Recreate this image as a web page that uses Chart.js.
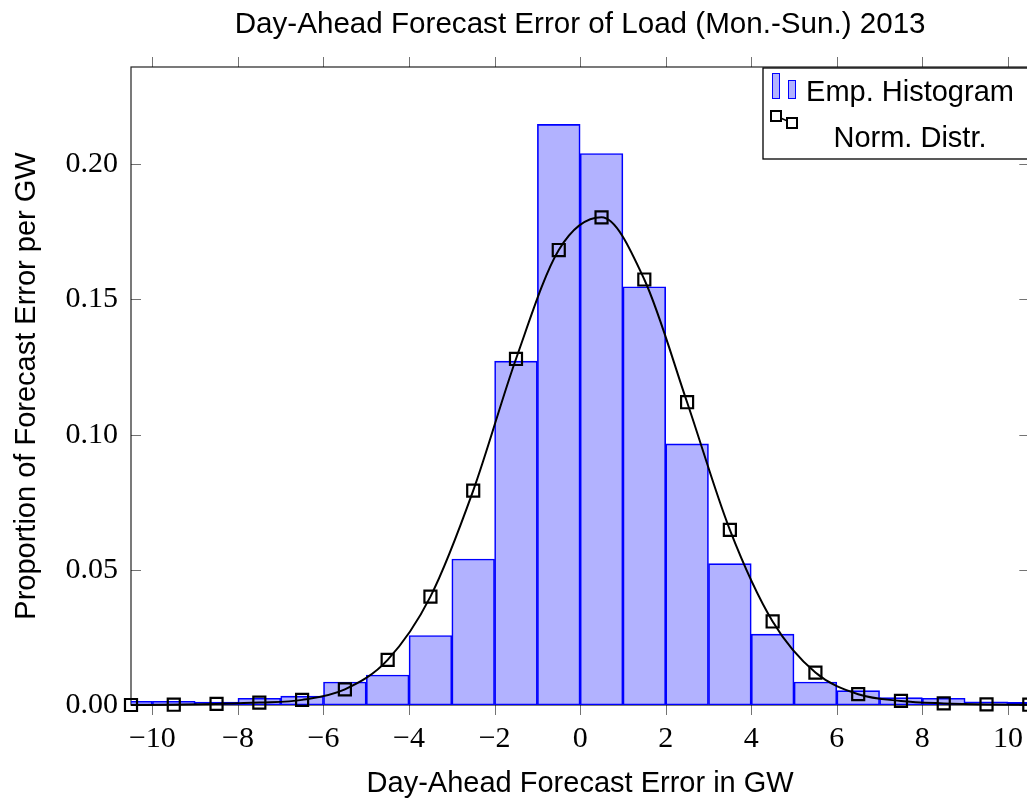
<!DOCTYPE html>
<html>
<head>
<meta charset="utf-8">
<script src="https://cdn.jsdelivr.net/npm/chart.js@4"></script>
<style>
  html, body { margin: 0; padding: 0; background: #fff; overflow: hidden; }
  #wrap { position: absolute; left: 0; top: 0; width: 1040px; height: 801px; }
</style>
</head>
<body>
<div id="wrap"><canvas id="chart" width="1040" height="801"></canvas></div>
<script>
// bin centres (1 GW wide bins), and points of the fitted normal curve
const binCentres = [-10.5, -9.5, -8.5, -7.5, -6.5, -5.5, -4.5, -3.5, -2.5, -1.5, -0.5,
                    0.5, 1.5, 2.5, 3.5, 4.5, 5.5, 6.5, 7.5, 8.5, 9.5, 10.5];
const histValues = [0.0014, 0.0014, 0.0011, 0.0025, 0.0033, 0.0085, 0.0111, 0.0257, 0.0540, 0.1272, 0.2148,
                    0.2040, 0.1547, 0.0966, 0.0523, 0.0262, 0.0085, 0.0053, 0.0027, 0.0025, 0.0012, 0.0010];
const normValues = [0.0000, 0.0001, 0.0004, 0.0009, 0.0019, 0.0058, 0.0167, 0.0401, 0.0793, 0.1280, 0.1683,
                    0.1804, 0.1574, 0.1120, 0.0648, 0.0309, 0.0120, 0.0040, 0.0015, 0.0006, 0.0002, 0.0001];
const xTicks = [-10, -8, -6, -4, -2, 0, 2, 4, 6, 8, 10];
const yTicks = [0, 0.05, 0.10, 0.15, 0.20];

const sansFont = '"Liberation Sans", Arial, sans-serif';
const serifFont = '"Liberation Serif", "Times New Roman", serif';
const barFill = 'rgba(0, 0, 255, 0.3)';
const barLine = '#0000ff';
const tickColor = 'rgba(0, 0, 0, 0.55)';

const frame = {
    id: 'frame',
    beforeDatasetsDraw(chart) {
        const {ctx, chartArea: a} = chart;
        ctx.save();
        ctx.strokeStyle = '#222';
        ctx.lineWidth = 1.2;
        ctx.strokeRect(a.left, a.top, a.right - a.left, a.bottom - a.top);
        ctx.restore();
    },
    afterDraw(chart) {
        const {ctx, chartArea: a, scales} = chart;
        ctx.save();
        ctx.strokeStyle = tickColor;
        ctx.lineWidth = 1;
        ctx.beginPath();
        xTicks.forEach(v => {
            const px = Math.round(scales.x.getPixelForValue(v)) + 0.5;
            ctx.moveTo(px, a.bottom); ctx.lineTo(px, a.bottom + 10);
            ctx.moveTo(px, a.top); ctx.lineTo(px, a.top - 10);
        });
        yTicks.forEach(v => {
            const py = Math.round(scales.y.getPixelForValue(v)) + 0.5;
            ctx.moveTo(a.left, py); ctx.lineTo(a.left + 10, py);
            ctx.moveTo(a.right, py); ctx.lineTo(a.right - 10, py);
        });
        ctx.stroke();

        // legend box
        const lx = 763, ly = 68, lw = a.right - 763, lh = 91;
        ctx.fillStyle = '#fff';
        ctx.fillRect(lx, ly, lw, lh);
        ctx.strokeStyle = '#000';
        ctx.lineWidth = 1.3;
        ctx.strokeRect(lx, ly, lw, lh);

        ctx.lineWidth = 1;
        ctx.fillStyle = barFill;
        ctx.strokeStyle = barLine;
        ctx.fillRect(772, 73, 8, 26); ctx.strokeRect(772.5, 73.5, 7, 25);
        ctx.fillRect(788, 80, 8, 19); ctx.strokeRect(788.5, 80.5, 7, 18);

        ctx.strokeStyle = '#000';
        ctx.lineWidth = 1.5;
        ctx.beginPath();
        ctx.moveTo(776, 116); ctx.lineTo(792, 123);
        ctx.stroke();
        ctx.lineWidth = 2;
        ctx.fillStyle = '#fff';
        ctx.fillRect(771, 111, 10, 10); ctx.strokeRect(771, 111, 10, 10);
        ctx.fillRect(787, 118, 10, 10); ctx.strokeRect(787, 118, 10, 10);

        ctx.fillStyle = '#000';
        ctx.font = '29px ' + sansFont;
        ctx.textAlign = 'center';
        ctx.textBaseline = 'middle';
        ctx.fillText('Emp. Histogram', 910, 93);
        ctx.fillText('Norm. Distr.', 910, 139);
        ctx.restore();
    }
};

new Chart(document.getElementById('chart'), {
    type: 'bar',
    data: {
        datasets: [{
            type: 'line',
            label: 'Norm. Distr.',
            data: binCentres.map((x, i) => ({x: x, y: normValues[i]})),
            borderColor: '#000',
            borderWidth: 2,
            cubicInterpolationMode: 'monotone',
            pointStyle: 'rect',
            pointRadius: 8.5,
            pointBorderWidth: 2.2,
            pointBorderColor: '#000',
            pointBackgroundColor: 'rgba(0,0,0,0)',
            clip: 12,
            order: 0
        }, {
            type: 'bar',
            label: 'Emp. Histogram',
            data: binCentres.map((x, i) => ({x: x, y: histValues[i]})),
            backgroundColor: barFill,
            borderColor: barLine,
            borderWidth: 1,
            borderSkipped: false,
            barPercentage: 1,
            categoryPercentage: 1,
            clip: 0,
            order: 1
        }]
    },
    options: {
        responsive: false,
        animation: false,
        layout: { padding: { left: 0, right: 7.5, top: 0, bottom: 0 } },
        plugins: {
            legend: { display: false },
            tooltip: { enabled: false }
        },
        scales: {
            x: {
                type: 'linear',
                position: 'bottom',
                min: -10.5,
                max: 10.5,
                offset: false,
                afterBuildTicks: s => { s.ticks = xTicks.map(v => ({value: v})); },
                afterFit: s => { s.height = 96; },
                grid: { display: false, drawTicks: false },
                border: { display: false },
                ticks: {
                    color: '#000',
                    padding: 16,
                    font: { family: serifFont, size: 30 },
                    callback: v => String(v).replace('-', '\u2212')
                },
                title: {
                    display: true,
                    text: 'Day-Ahead Forecast Error in GW',
                    color: '#000',
                    font: { family: sansFont, size: 29 },
                    padding: { top: 0, bottom: 0 }
                }
            },
            x2: {
                type: 'linear',
                position: 'top',
                min: -10.5,
                max: 10.5,
                afterFit: s => { s.height = 67; },
                grid: { display: false, drawTicks: false },
                border: { display: false },
                ticks: { display: false },
                title: {
                    display: true,
                    text: 'Day-Ahead Forecast Error of Load (Mon.-Sun.) 2013',
                    color: '#000',
                    font: { family: sansFont, size: 29.6 },
                    padding: { top: 7, bottom: 0 }
                }
            },
            y: {
                min: 0,
                max: 0.236,
                afterBuildTicks: s => { s.ticks = yTicks.map(v => ({value: v})); },
                afterFit: s => { s.width = 131; },
                grid: { display: false, drawTicks: false },
                border: { display: false },
                ticks: {
                    color: '#000',
                    padding: 13,
                    font: { family: serifFont, size: 30 },
                    callback: v => v.toFixed(2)
                },
                title: {
                    display: true,
                    text: 'Proportion of Forecast Error per GW',
                    color: '#000',
                    font: { family: sansFont, size: 29 },
                    padding: { top: 10, bottom: 0 }
                }
            }
        }
    },
    plugins: [frame]
});
</script>
</body>
</html>
